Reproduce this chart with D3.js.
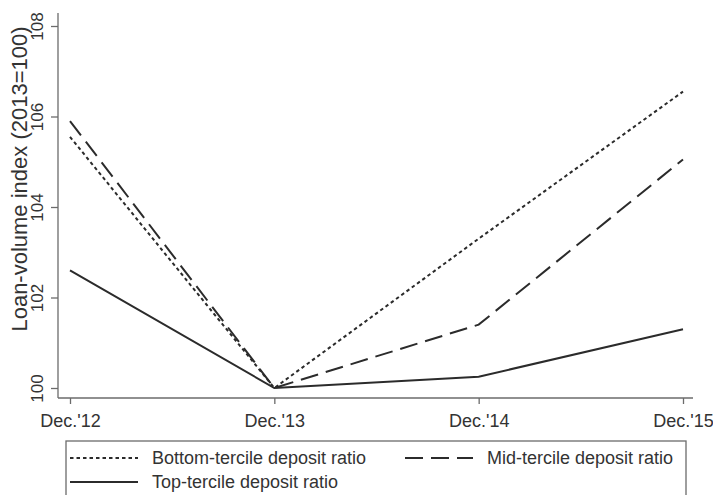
<!DOCTYPE html>
<html>
<head>
<meta charset="utf-8">
<script src="https://cdn.jsdelivr.net/npm/d3@7"></script>
<style>
  body { margin: 0; background: #fff; }
  svg { display: block; font-family: "Liberation Sans", Arial, sans-serif; }
</style>
</head>
<body>
<script>
let width = 713;
let height = 495;

// categories along the x axis
let periods = ["Dec.'12", "Dec.'13", "Dec.'14", "Dec.'15"];

// loan-volume index by deposit ratio tercile
let bottomTercile = [105.55, 100, 103.3, 106.55];
let midTercile = [105.9, 100, 101.4, 105.05];
let topTercile = [102.6, 100, 100.25, 101.3];

let yTicks = [100, 102, 104, 106, 108];

let seriesNames = ["Bottom-tercile deposit ratio", "Mid-tercile deposit ratio", "Top-tercile deposit ratio"];

let series = [
    {name: seriesNames[0], values: bottomTercile, dash: "3.5,3"},
    {name: seriesNames[1], values: midTercile, dash: "18,8"},
    {name: seriesNames[2], values: topTercile, dash: null}
];

let x = d3.scalePoint().domain(periods).range([70, 683]);
let y = d3.scaleLinear().domain([100, 108]).range([388, 26]);

let plotLeft = 58, plotRight = 693, plotTop = 13, plotBottom = 398;

let svg = d3.select("body").append("svg")
    .attr("width", width)
    .attr("height", height);

let axisColor = "#6b6b6b";

// y axis
let yAxis = svg.append("g")
    .attr("transform", `translate(${plotLeft},0)`)
    .call(d3.axisLeft(y).tickValues(yTicks).tickSize(7).tickSizeOuter(0).tickFormat(d3.format("d")));
yAxis.select(".domain").remove();
yAxis.selectAll(".tick line").attr("stroke", axisColor).attr("stroke-width", 1.3);
yAxis.selectAll(".tick text")
    .attr("x", null).attr("dy", null)
    .attr("transform", "translate(-15,0) rotate(-90)")
    .attr("text-anchor", "middle")
    .attr("font-size", 17)
    .attr("fill", "#333");
svg.append("line")
    .attr("x1", plotLeft).attr("x2", plotLeft)
    .attr("y1", plotTop).attr("y2", plotBottom)
    .attr("stroke", axisColor).attr("stroke-width", 1.3);

// x axis
let xAxis = svg.append("g")
    .attr("transform", `translate(0,${plotBottom})`)
    .call(d3.axisBottom(x).tickSize(6).tickSizeOuter(0).tickPadding(10));
xAxis.select(".domain").remove();
xAxis.selectAll(".tick line").attr("stroke", axisColor).attr("stroke-width", 1.3);
xAxis.selectAll(".tick text").attr("font-size", 18).attr("fill", "#333");
svg.append("line")
    .attr("x1", plotLeft).attr("x2", plotRight)
    .attr("y1", plotBottom).attr("y2", plotBottom)
    .attr("stroke", axisColor).attr("stroke-width", 1.3);

// y title
svg.append("text")
    .attr("transform", "translate(27,179) rotate(-90)")
    .attr("text-anchor", "middle")
    .attr("font-size", 22)
    .attr("fill", "#333")
    .text("Loan-volume index (2013=100)");

let line = d3.line()
    .x((d, i) => x(periods[i]))
    .y((d) => y(d));

svg.selectAll(".series")
    .data(series)
    .enter()
    .append("path")
        .attr("class", "series")
        .attr("d", (d) => line(d.values))
        .attr("fill", "none")
        .attr("stroke", "#2b2b2b")
        .attr("stroke-width", 2)
        .attr("stroke-dasharray", (d) => d.dash);

// legend
let legend = svg.append("g");
legend.append("rect")
    .attr("x", 66).attr("y", 441)
    .attr("width", 620).attr("height", 70)
    .attr("fill", "none")
    .attr("stroke", axisColor)
    .attr("stroke-width", 1.3);

let legendPos = [
    {x: 70, y: 458},
    {x: 405, y: 458},
    {x: 70, y: 482}
];

let items = legend.selectAll(".item")
    .data(series)
    .enter()
    .append("g")
        .attr("class", "item")
        .attr("transform", (d, i) => `translate(${legendPos[i].x},${legendPos[i].y})`);

items.append("line")
    .attr("x1", 0).attr("x2", 68)
    .attr("stroke", "#2b2b2b")
    .attr("stroke-width", 2)
    .attr("stroke-dasharray", (d) => d.dash);

items.append("text")
    .attr("x", 82)
    .attr("dy", "0.35em")
    .attr("font-size", 18)
    .attr("fill", "#333")
    .text((d) => d.name);
</script>
</body>
</html>
